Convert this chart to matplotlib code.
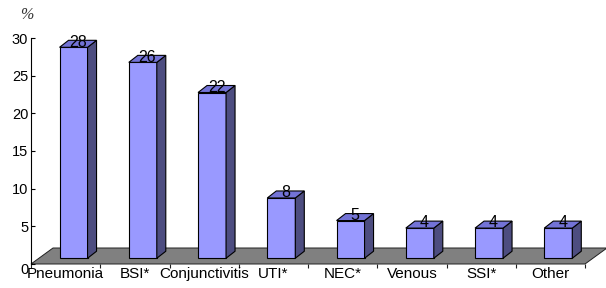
import matplotlib
matplotlib.use("Agg")
import matplotlib.pyplot as plt
import matplotlib.transforms as mtransforms
from matplotlib.patches import Polygon

plt.rcParams['font.family'] = ['Liberation Sans', 'DejaVu Sans']

categories = ["Pneumonia", "BSI*", "Conjunctivitis", "UTI*", "NEC*", "Venous", "SSI*", "Other"]
values = [28, 26, 22, 8, 5, 4, 4, 4]
yticks = [0, 5, 10, 15, 20, 25, 30]

W, H = 606, 288
fig = plt.figure(figsize=(W / 100, H / 100), dpi=100)
L, R, B, T = 31, 585, 264, 38
ax = fig.add_axes([L / W, (H - B) / H, (R - L) / W, (B - T) / H])
n = len(categories)
ax.set_xlim(0, n)
ax.set_ylim(0, 30)

# 3D depth offsets (in data units)
px_x = (R - L) / n
px_y = (B - T) / 30
fdx, fdy = 22 / px_x, 16 / px_y          # floor depth
bw = 28 / px_x                           # bar width
bdx, bdy = 9 / px_x, 7 / px_y            # bar depth
f0 = 0.36                                # bar position within floor depth
sx, sy = f0 * fdx, f0 * fdy

front_c, side_c, top_c = "#9999FF", "#4D4D80", "#7373D6"
floor_c = "#808080"

# floor
floor = Polygon([(0, 0), (n, 0), (n + fdx, fdy), (fdx, fdy)], closed=True,
                facecolor=floor_c, edgecolor="#202020", linewidth=0.7,
                clip_on=False, zorder=1)
ax.add_patch(floor)

for i, v in enumerate(values):
    x0 = i + 0.5 - bw / 2 + sx
    x1 = x0 + bw
    y0 = sy
    y1 = v + sy
    kw = dict(closed=True, edgecolor="black", linewidth=0.8, clip_on=False, zorder=3)
    ax.add_patch(Polygon([(x0, y0), (x1, y0), (x1, y1), (x0, y1)], facecolor=front_c, **kw))
    ax.add_patch(Polygon([(x1, y0), (x1 + bdx, y0 + bdy), (x1 + bdx, y1 + bdy), (x1, y1)],
                         facecolor=side_c, **kw))
    ax.add_patch(Polygon([(x0, y1), (x1, y1), (x1 + bdx, y1 + bdy), (x0 + bdx, y1 + bdy)],
                         facecolor=top_c, **kw))
    ax.text((x0 + x1) / 2 + bdx / 2, y1 + 0.1, str(v), ha="center", va="baseline",
            fontsize=11.5, color="black", zorder=5)

for s in ["top", "right", "bottom"]:
    ax.spines[s].set_visible(False)
ax.spines["left"].set_linewidth(0.8)
ax.spines["left"].set_zorder(4)

ax.set_yticks(yticks)
ax.set_yticklabels([str(t) for t in yticks], fontsize=10.5)
ax.tick_params(axis="y", direction="in", length=3, width=0.8, pad=2)
zero_lbl = ax.get_yticklabels()[0]
zero_lbl.set_transform(zero_lbl.get_transform() +
                       mtransforms.ScaledTranslation(0, -5 / 100, fig.dpi_scale_trans))

ax.set_xticks(range(0, n + 1))
ax.set_xticklabels([])
ax.set_xticks([i + 0.5 for i in range(n)], minor=True)
ax.set_xticklabels(categories, minor=True, fontsize=11)
ax.tick_params(axis="x", which="major", direction="out", length=3, width=0.8, color="#202020")
ax.tick_params(axis="x", which="minor", length=0, pad=2)

fig.text(27 / W, 1 - 15 / H, "%", ha="center", va="center", fontsize=11.5,
         family=["Liberation Serif", "DejaVu Serif"], style="italic", color="#333333")

fig.savefig("out.png", dpi=100)
